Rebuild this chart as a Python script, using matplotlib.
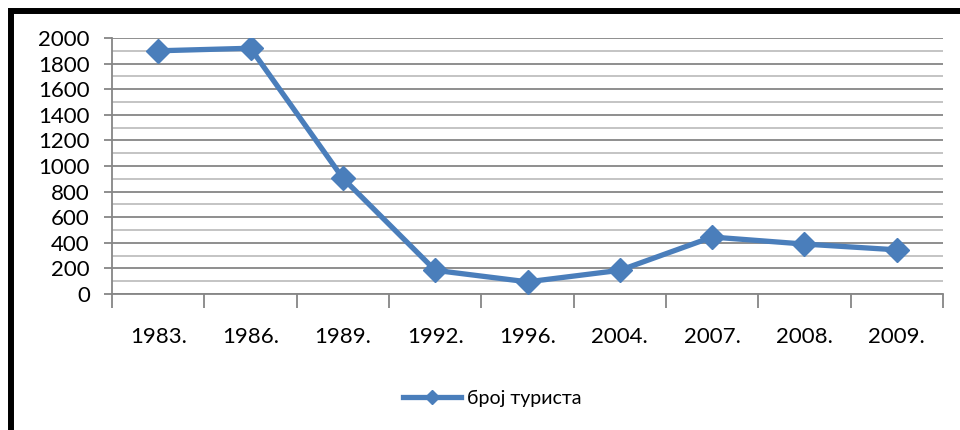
import matplotlib
matplotlib.use("Agg")
import matplotlib.pyplot as plt
from matplotlib.patches import Rectangle
from matplotlib.ticker import MultipleLocator, FixedLocator

plt.rcParams['font.family'] = ['Lato', 'DejaVu Sans']

years = ["1983.", "1986.", "1989.", "1992.", "1996.", "2004.", "2007.", "2008.", "2009."]
tourists = [1900, 1920, 905, 185, 95, 185, 445, 390, 345]
series_name = "број туриста"

W, H = 960, 430
fig = plt.figure(figsize=(W / 100, H / 100), dpi=100)
fig.patch.set_facecolor("white")

# outer frame (left and top edges visible)
fig.patches.append(Rectangle((11 / W, -0.1), 1.2, 1.1 - 11.5 / H,
                             transform=fig.transFigure, fill=False,
                             edgecolor="black", linewidth=4.3, zorder=0))

left, right, top, bottom = 112, 943, 38, 294
ax = fig.add_axes([left / W, 1 - bottom / H, (right - left) / W, (bottom - top) / H])

x = list(range(len(years)))
ax.plot(x, tourists, color="#4A7EBB", linewidth=3.8, marker="D",
        markersize=12.5, markeredgecolor="#4A7EBB", zorder=3,
        solid_joinstyle="round", label=series_name)

ax.set_xlim(-0.5, len(years) - 0.5)
ax.set_ylim(0, 2000)

ax.yaxis.set_major_locator(MultipleLocator(200))
ax.yaxis.set_minor_locator(MultipleLocator(100))
ax.grid(axis="y", which="major", color="#868686", linewidth=1.3, zorder=1)
ax.grid(axis="y", which="minor", color="#BFBFBF", linewidth=1.3, zorder=1)

ax.set_xticks(x)
ax.set_xticklabels(years)
ax.xaxis.set_minor_locator(FixedLocator([i - 0.5 for i in range(len(years) + 1)]))
ax.tick_params(axis="x", which="major", length=0, pad=24, labelsize=16)
ax.tick_params(axis="x", which="minor", length=10, width=1.3, color="#868686", direction="out")
ax.tick_params(axis="y", which="major", length=6, width=1.3, color="#868686", labelsize=16, pad=10)
ax.tick_params(axis="y", which="minor", length=0)

for side in ("top", "right"):
    ax.spines[side].set_visible(False)
for side in ("left", "bottom"):
    ax.spines[side].set_color("#868686")
    ax.spines[side].set_linewidth(1.3)

fig.legend(handles=ax.get_lines(), loc="center", bbox_to_anchor=(0.513, 1 - 398 / H),
           frameon=False, fontsize=14, handlelength=3.0, handletextpad=0.3,
           markerscale=0.6)

fig.savefig("out.png", dpi=100, facecolor="white")
